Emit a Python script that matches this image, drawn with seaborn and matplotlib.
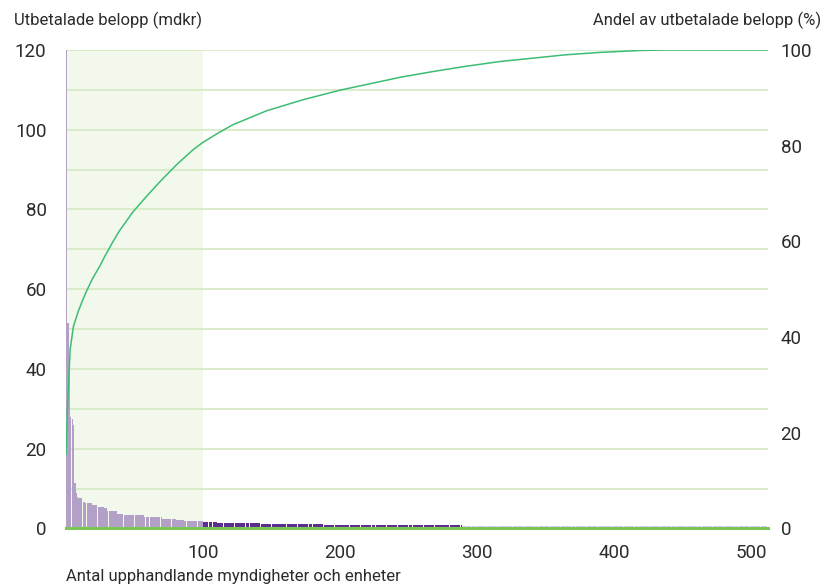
#!/usr/bin/env python3
"""
Utbetalade belopp per upphandlande myndighet, sorterat, med kumulativ andel.
"""

import numpy as np
import pandas as pd
import matplotlib.pyplot as plt
import seaborn as sns

# ----------------------------
# Data
# ----------------------------
# largest payers one by one (mdkr)
top_bars = [124, 51.6, 42.3, 28, 27.5, 26, 11.4, 8.9, 8.0]
# then runs of roughly equal bars: height (mdkr) and how many
run_heights = [7.6, 6.7, 6.3, 5.9, 5.3, 5.0, 4.4, 3.6, 3.4, 2.9, 2.8, 2.4, 2.1, 1.9,
               1.6, 1.25, 1.0, 0.75, 0.5]
run_counts = [3, 2, 5, 4, 5, 2, 7, 5, 15, 5, 8, 10, 6, 14,
              10, 32, 46, 101, 223]
# where the bar colour changes (bar index)
group_edges = [100, 289]
group_names = ["topp 100", "mellan", "övriga"]

# cumulative share of paid amount (%), read at these x positions
share_x = [0, 1, 2, 3, 5.4, 9, 12, 15, 19, 25, 28, 34, 39, 49, 60, 69, 81, 93, 100,
           112, 122, 146.5, 173, 200, 244, 268, 292, 317, 341, 365, 390, 419, 438, 512]
share_pct = [15.4, 24.8, 31, 37.3, 42.2, 45.4, 47.6, 49.6, 52.0, 55.0, 56.7, 59.8, 62.2,
             66.2, 69.8, 72.6, 76.1, 79.2, 80.7, 82.8, 84.4, 87.3, 89.6, 91.6, 94.3, 95.5,
             96.6, 97.6, 98.3, 99.0, 99.5, 99.9, 100, 100]

left_ticks = [0, 20, 40, 60, 80, 100, 120]
right_ticks = [0, 20, 40, 60, 80, 100]
x_ticks = [100, 200, 300, 400, 500]

GREEN_AXIS = "#7cc653"
GRID = "#d5eac4"
SHADE = "#f2f8ec"
LINE = "#3dbd74"
TEXT = "#2b2b2b"
palette = {"topp 100": "#b3a0c7", "mellan": "#5b2d8f", "övriga": "#d6cce4"}


def main():
    sns.set_theme(style="white")
    plt.rcParams["font.family"] = ["Roboto", "DejaVu Sans"]

    heights = list(top_bars)
    for h, c in zip(run_heights, run_counts):
        heights += [h] * c
    n = len(heights)
    idx = np.arange(n)
    groups = np.where(idx < group_edges[0], group_names[0],
                      np.where(idx < group_edges[1], group_names[1], group_names[2]))
    df = pd.DataFrame({"pos": idx + 0.5, "belopp": heights, "grupp": groups})
    share = pd.DataFrame({"x": share_x, "andel": share_pct})

    fig = plt.figure(figsize=(8.3, 5.88), dpi=100)
    ax = fig.add_axes([66 / 830, 1 - 528.4 / 588, 702 / 830, 478.4 / 588])

    # shaded band for the 100 largest
    ax.axvspan(0, 100, color=SHADE, zorder=0, lw=0)

    sns.barplot(data=df, x="pos", y="belopp", hue="grupp", palette=palette,
                native_scale=True, dodge=False, width=0.9, linewidth=0,
                saturation=1, errorbar=None, legend=False, ax=ax)

    ax.set_xlim(0, 512.5)
    ax.set_ylim(0, 120)
    ax.set_yticks(left_ticks)
    ax.set_yticks(np.arange(10, 121, 20), minor=True)
    ax.set_axisbelow(True)
    ax.grid(True, axis="y", which="both", color=GRID, lw=1.2)
    ax.grid(False, axis="x")
    ax.set_xticks(x_ticks)
    ax.set_xlabel("")
    ax.set_ylabel("")
    ax.tick_params(axis="y", which="both", length=0, pad=14, labelsize=13.5, labelcolor=TEXT)
    ax.tick_params(axis="x", length=8, width=1.6, color=GREEN_AXIS, pad=3,
                   labelsize=13.5, labelcolor=TEXT)
    for side in ["left", "right", "top"]:
        ax.spines[side].set_visible(False)
    ax.spines["bottom"].set_color(GREEN_AXIS)
    ax.spines["bottom"].set_linewidth(2.2)
    ax.spines["bottom"].set_zorder(5)

    # cumulative share on the right axis
    ax2 = ax.twinx()
    sns.lineplot(data=share, x="x", y="andel", color=LINE, lw=1.1, ax=ax2)
    ax2.set_ylim(0, 100)
    ax2.set_xlim(0, 512.5)
    ax2.set_yticks(right_ticks)
    ax2.set_ylabel("")
    ax2.tick_params(axis="y", length=0, pad=9, labelsize=13.5, labelcolor=TEXT)
    ax2.grid(False)
    for side in ax2.spines:
        ax2.spines[side].set_visible(False)

    fig.text(14 / 830, 1 - 20 / 588, "Utbetalade belopp (mdkr)", ha="left", va="center",
             fontsize=12, color=TEXT)
    fig.text(821 / 830, 1 - 20 / 588, "Andel av utbetalade belopp (%)", ha="right",
             va="center", fontsize=12, color=TEXT)
    fig.text(66 / 830, 1 - 577 / 588, "Antal upphandlande myndigheter och enheter",
             ha="left", va="center", fontsize=12, color=TEXT)

    fig.savefig("out.png", dpi=100)


if __name__ == "__main__":
    main()
